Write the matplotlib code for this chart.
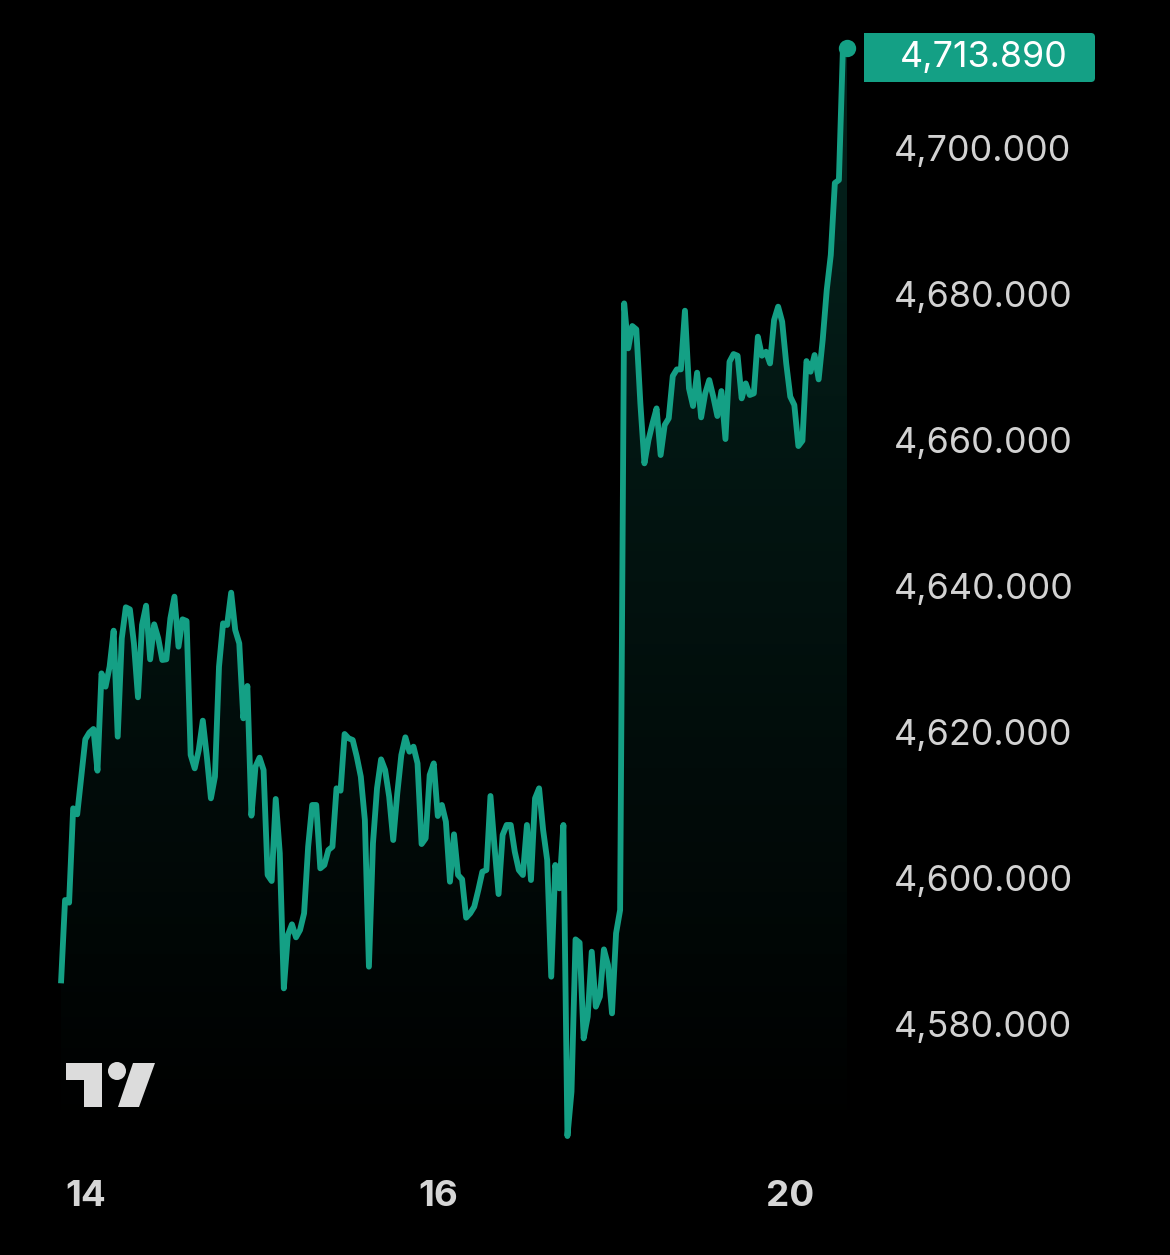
import matplotlib
matplotlib.use("Agg")
import matplotlib.pyplot as plt
from matplotlib.patches import Polygon, Circle, FancyBboxPatch, Rectangle
from matplotlib.transforms import ScaledTranslation
import numpy as np

# close price per bar
prices = [
    4585.71, 4597.12, 4596.76, 4609.68, 4608.86, 4614.02, 4619.13, 4620.05, 4620.55, 4614.84,
    4628.17, 4626.35, 4629.09, 4634.02, 4619.50, 4632.97, 4637.22, 4636.94, 4632.28, 4624.89,
    4634.80, 4637.44, 4630.09, 4634.89, 4632.97, 4630.00, 4630.09, 4635.71, 4638.68, 4631.83,
    4635.57, 4635.34, 4616.99, 4615.16, 4617.67, 4621.69, 4616.76, 4611.05, 4614.02, 4629.09,
    4635.02, 4634.80, 4639.22, 4634.11, 4632.28, 4622.01, 4626.44, 4608.68, 4615.39, 4616.62,
    4614.93, 4600.55, 4599.73, 4610.96, 4603.52, 4585.02, 4592.33, 4593.79, 4592.01, 4593.01,
    4595.30, 4604.43, 4610.14, 4610.14, 4601.46, 4601.92, 4603.97, 4604.43, 4612.42, 4612.10,
    4619.86, 4619.27, 4619.04, 4616.76, 4614.02, 4608.08, 4587.99, 4604.89, 4612.42, 4616.39,
    4614.93, 4611.28, 4605.34, 4611.73, 4616.99, 4619.41, 4617.44, 4618.13, 4615.84, 4604.79,
    4605.57, 4614.25, 4615.84, 4608.63, 4610.14, 4607.85, 4599.63, 4606.12, 4600.55, 4599.95,
    4594.70, 4595.30, 4596.21, 4598.49, 4601.00, 4601.23, 4611.37, 4604.43, 4597.94, 4606.03,
    4607.40, 4607.40, 4603.74, 4601.23, 4600.55, 4607.40, 4599.86, 4611.05, 4612.42, 4606.71,
    4602.60, 4586.62, 4601.92, 4598.72, 4607.40, 4564.79, 4570.87, 4591.73, 4591.28, 4578.17,
    4581.14, 4590.04, 4582.51, 4583.88, 4590.36, 4588.22, 4581.60, 4592.56, 4595.75, 4678.85,
    4672.69, 4675.75, 4675.29, 4665.15, 4656.94, 4660.13, 4662.42, 4664.47, 4658.08, 4662.19,
    4663.10, 4668.90, 4669.81, 4669.81, 4677.85, 4667.21, 4664.79, 4669.36, 4663.24, 4666.52,
    4668.35, 4666.07, 4663.42, 4666.84, 4660.27, 4670.86, 4671.91, 4671.68, 4665.84, 4667.89,
    4666.30, 4666.52, 4674.29, 4671.68, 4672.23, 4670.63, 4676.57, 4678.40, 4676.34, 4670.63,
    4666.07, 4664.93, 4659.31, 4660.04, 4670.95, 4669.49, 4671.78, 4668.44, 4673.84, 4680.68,
    4685.48, 4695.34, 4695.75, 4713.89, 4713.89,
]
price_ticks = [4700, 4680, 4660, 4640, 4620, 4600, 4580]
price_labels = ["4,700.000", "4,680.000", "4,660.000", "4,640.000", "4,620.000", "4,600.000", "4,580.000"]
date_ticks = [6, 93, 180]
date_labels = ["14", "16", "20"]
last_label = "4,713.890"

TEAL = "#14a085"
FIG_W, FIG_H = 1170, 1255

plt.rcParams["font.family"] = ["Inter", "DejaVu Sans"]

fig = plt.figure(figsize=(FIG_W / 100, FIG_H / 100), dpi=100, facecolor="black")
ax = fig.add_axes([61 / FIG_W, 1 - 1150 / FIG_H, 786 / FIG_W, 1150 / FIG_H], facecolor="black")

bars = np.arange(len(prices))
y_limits = (4700 - 1001 / 7.3, 4700 + 149 / 7.3)

# gradient under the line, opaque so it fades all the way to black
floor = 4564.0
top = max(prices)
poly = ax.fill_between(bars, prices, floor, color="none", lw=0)
fade = np.linspace(0.22, 0.0, 512)[:, None, None]
grad = np.ones((512, 2, 3)) * np.array(matplotlib.colors.to_rgb(TEAL)) * fade
img = ax.imshow(grad, extent=(0, len(prices) - 1, floor, top), origin="upper", aspect="auto", zorder=1)
img.set_clip_path(poly.get_paths()[0], ax.transData)
ax.set_xlim(0, len(prices) - 1)
ax.set_ylim(*y_limits)

ax.plot(bars, prices, color=TEAL, lw=4.2, solid_joinstyle="round", solid_capstyle="butt", zorder=3, clip_on=False)
ax.plot(bars[-1], prices[-1], "o", color=TEAL, ms=12.5, mew=0, zorder=4, clip_on=False)

ax.yaxis.tick_right()
ax.set_yticks(price_ticks, price_labels)
ax.set_xticks(date_ticks, date_labels)
ax.tick_params(axis="y", length=0, pad=34, labelsize=25.8, labelcolor="#d2d2d2")
ax.tick_params(axis="x", length=0, pad=21.5, labelsize=26.5, labelcolor="#d6d6d6")
nudge = ScaledTranslation(0, 1 / 100, fig.dpi_scale_trans)
for lab in ax.get_yticklabels():
    lab.set_transform(lab.get_transform() + nudge)
for lab in ax.get_xticklabels():
    lab.set_fontweight("bold")
for s in ax.spines.values():
    s.set_visible(False)

# overlay in pixel coords for the price tag and the logo
ov = fig.add_axes([0, 0, 1, 1], facecolor="none")
ov.set_xlim(0, FIG_W)
ov.set_ylim(FIG_H, 0)
ov.axis("off")

ov.add_patch(FancyBboxPatch((868, 36), 224, 43, boxstyle="round,pad=3,rounding_size=4", fc=TEAL, ec="none"))
ov.add_patch(Rectangle((864, 33), 30, 49, fc=TEAL, ec="none"))
ov.text(984, 57.5, last_label, color="white", fontsize=25.8, va="center", ha="center")

LOGO = "#dcdcdc"
ov.add_patch(Polygon([(66, 1063), (102, 1063), (102, 1107), (84, 1107), (84, 1080), (66, 1080)], fc=LOGO, ec="none"))
ov.add_patch(Circle((117, 1071), 9, fc=LOGO, ec="none"))
ov.add_patch(Polygon([(133, 1063), (155, 1063), (139, 1107), (118, 1107)], fc=LOGO, ec="none"))

plt.savefig("out.png", dpi=100, facecolor="black")
